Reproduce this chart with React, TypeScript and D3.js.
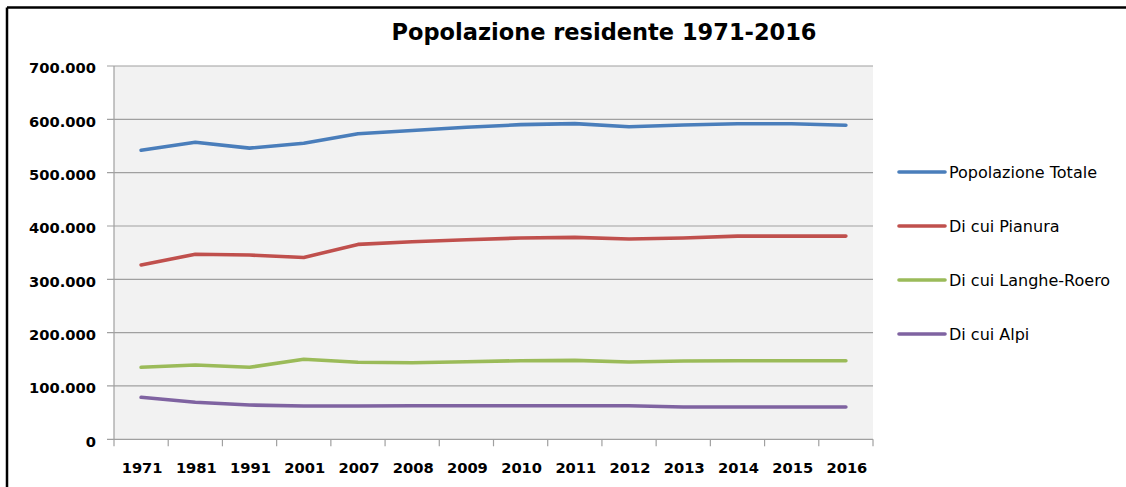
import React from "react";
import * as d3 from "d3";

const years = ["1971","1981","1991","2001","2007","2008","2009","2010","2011","2012","2013","2014","2015","2016"];
const totale = [542000,557000,546000,555000,573000,579000,585000,590000,592000,586000,589500,591800,591800,588800];
const pianura = [327000,347000,345500,341000,365500,370500,374300,377400,378700,375600,377400,381000,381000,381000];
const langhe = [135000,139300,135000,150000,144400,143600,145500,147400,148000,145000,146800,147400,147400,147400];
const alpi = [78700,69400,64300,62400,62400,63000,63000,63000,63000,63000,60600,60600,60600,60600];
const seriesNames = ["Popolazione Totale","Di cui Pianura","Di cui Langhe-Roero","Di cui Alpi"];
const seriesColors = ["#4a7ebb","#c0504d","#9bbb59","#7f63a1"];
const yTicks = [0,100000,200000,300000,400000,500000,600000,700000];
const title = "Popolazione residente 1971-2016";

const W = 1126, H = 487;
const left = 114, right = 873, top = 66, bottom = 439.3;

const itLocale = d3.formatLocale({ decimal: ",", thousands: ".", grouping: [3], currency: ["€", ""] });
const fmt = itLocale.format(",d");

export default function App() {
  const x = d3.scaleBand<string>().domain(years).range([left, right]).paddingInner(0).paddingOuter(0);
  const y = d3.scaleLinear().domain([0, 700000]).range([bottom, top]);
  const allSeries = [totale, pianura, langhe, alpi];
  const line = d3.line<number>()
    .x((_, i) => (x(years[i]) as number) + x.bandwidth() / 2)
    .y((d) => y(d))
    .curve(d3.curveLinear);
  const tickXs = years.map((yr) => x(yr) as number).concat([right]);
  const axisFont = "'DejaVu Sans', sans-serif";
  return (
    <svg width={W} height={H} style={{ position: "absolute", left: 0, top: 0, background: "#fff" }}>
      <line x1={7} x2={W} y1={7.5} y2={7.5} stroke="#000" strokeWidth={2.5} />
      <line x1={7} x2={7} y1={7.5} y2={H} stroke="#000" strokeWidth={2.5} />
      <text x={604} y={40} textAnchor="middle" fontFamily={axisFont} fontWeight="bold" fontSize={22.5} fill="#000">{title}</text>
      <rect x={left} y={top} width={right - left} height={bottom - top} fill="#f2f2f2" />
      {yTicks.map((t) => (
        <g key={t}>
          <line x1={left - 7} x2={right} y1={y(t)} y2={y(t)} stroke="#a0a0a0" strokeWidth={1.2} />
          <text x={96} y={y(t) + 7.3} textAnchor="end" fontFamily={axisFont} fontWeight="bold" fontSize={14.7} fill="#000">{fmt(t)}</text>
        </g>
      ))}
      <line x1={left} x2={left} y1={top} y2={bottom} stroke="#a0a0a0" strokeWidth={1.2} />
      {tickXs.map((tx, i) => (
        <line key={i} x1={tx} x2={tx} y1={bottom} y2={bottom + 7} stroke="#a0a0a0" strokeWidth={1.2} />
      ))}
      {years.map((yr) => (
        <text key={yr} x={(x(yr) as number) + x.bandwidth() / 2 + 1} y={473} textAnchor="middle" fontFamily={axisFont} fontWeight="bold" fontSize={14.7} fill="#000">{yr}</text>
      ))}
      {allSeries.map((s, i) => (
        <path key={i} d={line(s) || ""} fill="none" stroke={seriesColors[i]} strokeWidth={3.6} strokeLinecap="round" strokeLinejoin="round" />
      ))}
      {seriesNames.map((n, i) => {
        const ly = 172 + i * 54;
        return (
          <g key={n}>
            <line x1={899} x2={945} y1={ly} y2={ly} stroke={seriesColors[i]} strokeWidth={3.6} strokeLinecap="round" />
            <text x={949} y={ly + 6} fontFamily={axisFont} fontSize={16} fill="#000">{n}</text>
          </g>
        );
      })}
    </svg>
  );
}
